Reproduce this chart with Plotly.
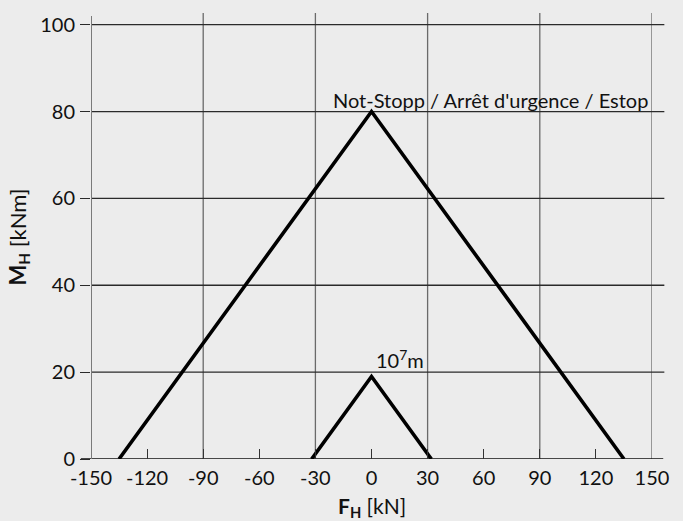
import plotly.graph_objects as go

# Data
big_x = [-135, 0, 135]
big_y = [0, 80, 0]
small_x = [-32, 0, 32]
small_y = [0, 19, 0]

x_ticks = [-150, -120, -90, -60, -30, 0, 30, 60, 90, 120, 150]
x_grid = [-90, -30, 30, 90, 150]
y_ticks = [0, 20, 40, 60, 80, 100]
y_grid = [20, 40, 60, 80, 100]

big_label = "Not-Stopp / Arrêt d'urgence / Estop"
small_label = "10<sup>7</sup>m"
x_title = "<b>F<sub>H</sub></b> [kN]"
y_title = "<b>M<sub>H</sub></b> [kNm]"

FONT = "Lato, 'Open Sans', sans-serif"
BG = "#ececec"
FS = 20

fig = go.Figure()
fig.add_trace(go.Scatter(x=big_x, y=big_y, mode="lines",
                         line=dict(color="black", width=3.6), showlegend=False,
                         hoverinfo="skip"))
fig.add_trace(go.Scatter(x=small_x, y=small_y, mode="lines",
                         line=dict(color="black", width=3.6), showlegend=False,
                         hoverinfo="skip"))

shapes = []
for v in x_grid:
    shapes.append(dict(type="line", xref="x", yref="paper", x0=v, x1=v, y0=0, y1=1.007,
                       line=dict(color="#6a6a6a", width=1.3), layer="below"))
for v in y_grid:
    shapes.append(dict(type="line", xref="paper", yref="y", x0=0, x1=1.022, y0=v, y1=v,
                       line=dict(color="#2a2a2a", width=1.3), layer="below"))
shapes.append(dict(type="line", xref="paper", yref="y", x0=-0.018, x1=1.02, y0=0, y1=0,
                   line=dict(color="#111111", width=1.5), layer="below"))
shapes.append(dict(type="line", xref="x", yref="paper", x0=x_ticks[0], x1=x_ticks[0], y0=0, y1=1,
                   line=dict(color="#7a7a7a", width=2), layer="below"))

fig.update_layout(
    width=683, height=521,
    paper_bgcolor=BG, plot_bgcolor=BG,
    margin=dict(l=91, r=31, t=16, b=62),
    font=dict(family=FONT, size=FS, color="#111"),
    shapes=shapes,
    xaxis=dict(range=[-150, 150], tickvals=x_ticks,
               ticktext=[str(t) for t in x_ticks],
               showgrid=False, zeroline=False, showline=False, automargin=False,
               ticks="inside", ticklen=10, tickcolor="#333", tickwidth=1,
               ticklabelstandoff=5,
               tickfont=dict(size=FS, family=FONT)),
    yaxis=dict(range=[0, 102], tickvals=y_ticks,
               showgrid=False, zeroline=False, showline=False, automargin=False,
               ticks="outside", ticklen=10, tickcolor="#2a2a2a", tickwidth=1.3,
               ticklabelstandoff=1,
               tickfont=dict(size=FS, family=FONT)),
    annotations=[
        dict(x=63.5, y=79.4, xref="x", yref="y", text=big_label, showarrow=False,
             yanchor="bottom", xanchor="center", font=dict(size=FS, family=FONT)),
        dict(x=1.5, y=19.6, xref="x", yref="y", text=small_label, showarrow=False,
             yanchor="bottom", xanchor="left", font=dict(size=FS, family=FONT)),
        dict(x=0, y=-0.108, xref="x", yref="paper", text=x_title, showarrow=False,
             yanchor="middle", xanchor="center", font=dict(size=21, family=FONT)),
        dict(x=-0.13, y=0.5, xref="paper", yref="paper", text=y_title, showarrow=False,
             textangle=-90, yanchor="middle", xanchor="center", font=dict(size=22, family=FONT)),
    ],
)

fig.write_html("out.html", config={"displayModeBar": False},
               post_script="document.body.style.margin='0';")
